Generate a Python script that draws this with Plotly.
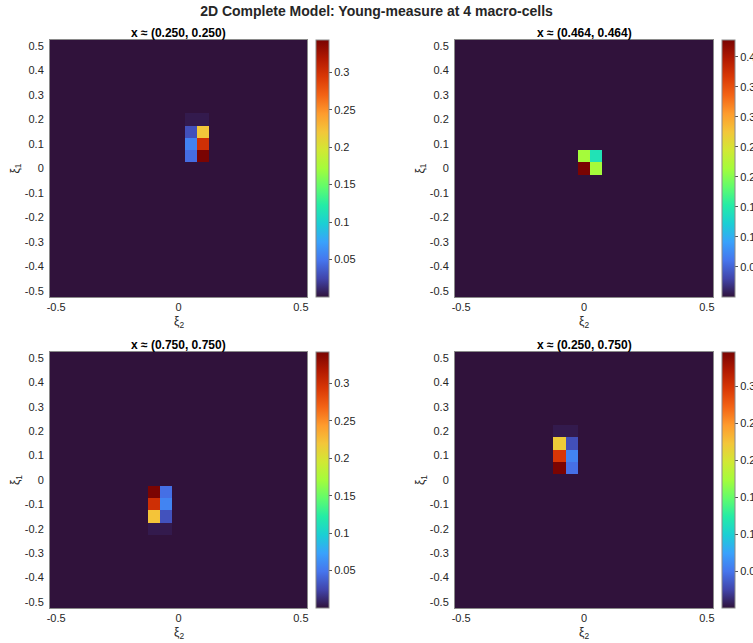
import plotly.graph_objects as go

W, H = 753, 643

# grid of cell centres (xi values)
grid = [round(-0.5 + 0.05 * i, 2) for i in range(21)]

# ---- panel data: non-zero cells (xi1, xi2, value) ----
titles = ["x ≈ (0.250, 0.250)", "x ≈ (0.464, 0.464)",
          "x ≈ (0.750, 0.750)", "x ≈ (0.250, 0.750)"]

tl_xi1 = [0.05, 0.05, 0.10, 0.10, 0.15, 0.15, 0.20, 0.20]
tl_xi2 = [0.05, 0.10, 0.05, 0.10, 0.05, 0.10, 0.05, 0.10]
tl_val = [0.045, 0.343, 0.056, 0.300, 0.030, 0.220, 0.004, 0.004]

tr_xi1 = [0.00, 0.00, 0.05, 0.05]
tr_xi2 = [0.00, 0.05, 0.00, 0.05]
tr_val = [0.428, 0.215, 0.215, 0.142]

bl_xi1 = [-0.05, -0.05, -0.10, -0.10, -0.15, -0.15, -0.20, -0.20]
bl_xi2 = [-0.10, -0.05, -0.10, -0.05, -0.10, -0.05, -0.10, -0.05]
bl_val = [0.342, 0.046, 0.300, 0.057, 0.221, 0.031, 0.004, 0.004]

br_xi1 = [0.05, 0.05, 0.10, 0.10, 0.15, 0.15, 0.20, 0.20]
br_xi2 = [-0.10, -0.05, -0.10, -0.05, -0.10, -0.05, -0.10, -0.05]
br_val = [0.346, 0.047, 0.298, 0.057, 0.219, 0.030, 0.004, 0.004]

# colorbar ticks per panel
tl_cb = [0.05, 0.1, 0.15, 0.2, 0.25, 0.3]
tr_cb = [0.05, 0.1, 0.15, 0.2, 0.25, 0.3, 0.35, 0.4]
bl_cb = [0.05, 0.1, 0.15, 0.2, 0.25, 0.3]
br_cb = [0.05, 0.1, 0.15, 0.2, 0.25, 0.3]

x_ticks = [-0.5, 0, 0.5]
x_ticktext = ["-0.5", "0", "0.5"]
y_ticks = [0.5, 0.4, 0.3, 0.2, 0.1, 0, -0.1, -0.2, -0.3, -0.4, -0.5]
y_ticktext = ["0.5", "0.4", "0.3", "0.2", "0.1", "0", "-0.1", "-0.2", "-0.3", "-0.4", "-0.5"]

turbo = ['#30123b', '#4145ab', '#4675ed', '#39a2fc', '#1bcfd4', '#24eca6',
         '#61fc6c', '#a4fc3b', '#d1e834', '#f3c63a', '#fe9b2d', '#f36315',
         '#d93806', '#b11901', '#7a0402']
cscale = [[i / (len(turbo) - 1), c] for i, c in enumerate(turbo)]

FONT = "Liberation Sans, Arial, Helvetica, sans-serif"
TXT = "#262626"


def build_z(xi1, xi2, val):
    z = [[0.0] * len(grid) for _ in grid]
    for a, b, v in zip(xi1, xi2, val):
        r = grid.index(round(a, 2))
        c = grid.index(round(b, 2))
        z[r][c] = v
    return z


panels = [
    (tl_xi1, tl_xi2, tl_val, tl_cb),
    (tr_xi1, tr_xi2, tr_val, tr_cb),
    (bl_xi1, bl_xi2, bl_val, bl_cb),
    (br_xi1, br_xi2, br_val, br_cb),
]

# pixel boxes for axes: (left, right, top, bottom)
boxes = [(50, 307, 40, 297), (455, 713, 40, 297),
         (50, 307, 352, 608), (455, 713, 352, 608)]

fig = go.Figure()
annotations = []
for i, ((xi1, xi2, val, cbt), (l, r, t, b)) in enumerate(zip(panels, boxes)):
    n = "" if i == 0 else str(i + 1)
    z = build_z(xi1, xi2, val)
    fig.add_trace(go.Heatmap(
        x=grid, y=grid, z=z, colorscale=cscale, zmin=0, zmax=max(val),
        xaxis="x" + n, yaxis="y" + n,
        colorbar=dict(
            x=(r + 9) / W, xanchor="left", xpad=0, ypad=0,
            y=1 - (t + b) / 2 / H, yanchor="middle",
            len=b - t, lenmode="pixels", thickness=13, thicknessmode="pixels",
            tickvals=cbt, ticktext=[f"{v:g}" for v in cbt],
            ticks="outside", ticklen=3, tickcolor="#555",
            outlinewidth=1, outlinecolor="#888",
            tickfont=dict(family=FONT, size=11, color=TXT),
        ),
    ))
    fig.layout["xaxis" + n] = dict(
        domain=[l / W, r / W], range=[-0.525, 0.525], anchor="y" + n,
        tickvals=x_ticks, ticktext=x_ticktext, showgrid=False, zeroline=False,
        showline=True, mirror=True, linecolor="#8a8a8a", linewidth=1, ticks="",
        tickfont=dict(family=FONT, size=11, color=TXT),
    )
    fig.layout["yaxis" + n] = dict(
        domain=[1 - b / H, 1 - t / H], range=[-0.525, 0.525], anchor="x" + n,
        tickvals=y_ticks, ticktext=y_ticktext, showgrid=False, zeroline=False,
        showline=True, mirror=True, linecolor="#8a8a8a", linewidth=1, ticks="",
        ticklabelstandoff=3,
        tickfont=dict(family=FONT, size=11, color=TXT),
    )
    cx = (l + r) / 2 / W
    annotations.append(dict(text="<b>" + titles[i] + "</b>", x=cx, y=1 - (t - 7) / H,
                            xref="paper", yref="paper", showarrow=False,
                            xanchor="center", yanchor="middle",
                            font=dict(family=FONT, size=12, color="#000")))
    annotations.append(dict(text="ξ<sub>2</sub>", x=cx, y=1 - (b + 25) / H,
                            xref="paper", yref="paper", showarrow=False,
                            xanchor="center", yanchor="middle",
                            font=dict(family=FONT, size=12, color=TXT)))
    annotations.append(dict(text="ξ<sub>1</sub>", x=(l - 34) / W, y=1 - (t + b) / 2 / H,
                            xref="paper", yref="paper", showarrow=False, textangle=-90,
                            xanchor="center", yanchor="middle",
                            font=dict(family=FONT, size=12, color=TXT)))

fig.update_layout(
    width=W, height=H, margin=dict(l=0, r=0, t=0, b=0, autoexpand=False),
    paper_bgcolor="white", plot_bgcolor="white",
    title=dict(text="<b>2D Complete Model: Young-measure at 4 macro-cells</b>",
               x=0.5, xanchor="center", y=1 - 11 / H, yanchor="middle", yref="container",
               font=dict(family=FONT, size=14, color="#262626")),
    annotations=annotations,
    font=dict(family=FONT, color=TXT),
)

fig.write_html("out.html", config={"displayModeBar": False},
               post_script="document.body.style.margin='0';")
